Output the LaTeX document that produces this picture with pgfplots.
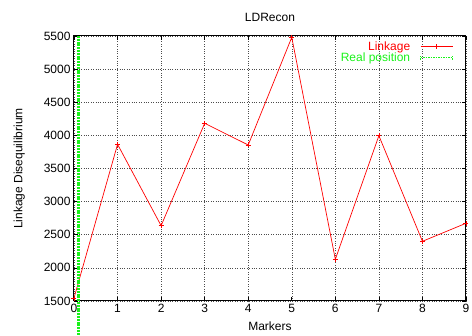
\documentclass[border=0pt]{standalone}
\usepackage{pgfplots}
\pgfplotsset{compat=1.18}
\usepackage{fontspec}
\setmainfont{Liberation Sans}
\definecolor{gpred}{rgb}{1,0,0}
\definecolor{gpgreen}{rgb}{0.1,0.95,0.1}
\begin{document}
\begin{tikzpicture}[x=1pt,y=1pt]
\path[use as bounding box] (-74,-35) rectangle (398,301);
\begin{axis}[
  at={(0,0)}, anchor=south west,
  scale only axis, width=392pt, height=265pt,
  xmin=0, xmax=9, ymin=1500, ymax=5500,
  xtick={0,...,9}, ytick={1500,2000,...,5500},
  /pgf/number format/1000 sep={},
  /pgf/number format/assume math mode=true,
  tick align=inside, tick pos=both,
  major tick length=4pt,
  tick style={black, line width=0.6pt},
  grid=major,
  grid style={black!70, dotted, line width=0.5pt},
  axis line style={black, line width=1pt},
  font=\fontsize{12}{14}\selectfont,
  ticklabel style={font=\fontsize{12}{14}\selectfont},
  title={LDRecon},
  title style={at={(0.5,1)}, anchor=south, yshift=5pt},
  xlabel={Markers},
  ylabel={Linkage Disequilibrium},
  xlabel style={yshift=-2pt},
  ylabel style={yshift=12pt},
  legend style={draw=none, fill=none, at={(0.975,0.995)}, anchor=north east,
    font=\fontsize{12}{13}\selectfont, row sep=-3pt},
  legend cell align=right,
  legend plot pos=right,
  legend image code/.code={\draw[mark repeat=2,mark phase=2,#1] plot coordinates {(0pt,0pt) (16pt,0pt) (32pt,0pt)};},
  clip=false,
]
\addplot[gpred, line width=0.7pt, mark=+, mark size=2.5pt, mark options={line width=0.7pt}]
  coordinates {(0,1545) (1,3865) (2,2637) (3,4182) (4,3855) (5,5480) (6,2129) (7,3995) (8,2401) (9,2673)};
\addlegendentry{\textcolor{gpred}{Linkage}\rule{8pt}{0pt}}
\addplot[gpgreen, line width=2.5pt, dash pattern=on 2pt off 0.8pt,
  legend image code/.code={\draw[gpgreen, line width=0.8pt, dash pattern=on 1.5pt off 1pt] (0pt,0pt) -- (32pt,0pt); \draw[gpgreen, line width=0.8pt] (0pt,-2pt) -- (0pt,2pt) (32pt,-2pt) -- (32pt,2pt);}]
  coordinates {(0.1,5500) (0.1,972)};
\addlegendentry{\textcolor{gpgreen}{Real position}\rule{8pt}{0pt}}
\end{axis}
\end{tikzpicture}
\end{document}
